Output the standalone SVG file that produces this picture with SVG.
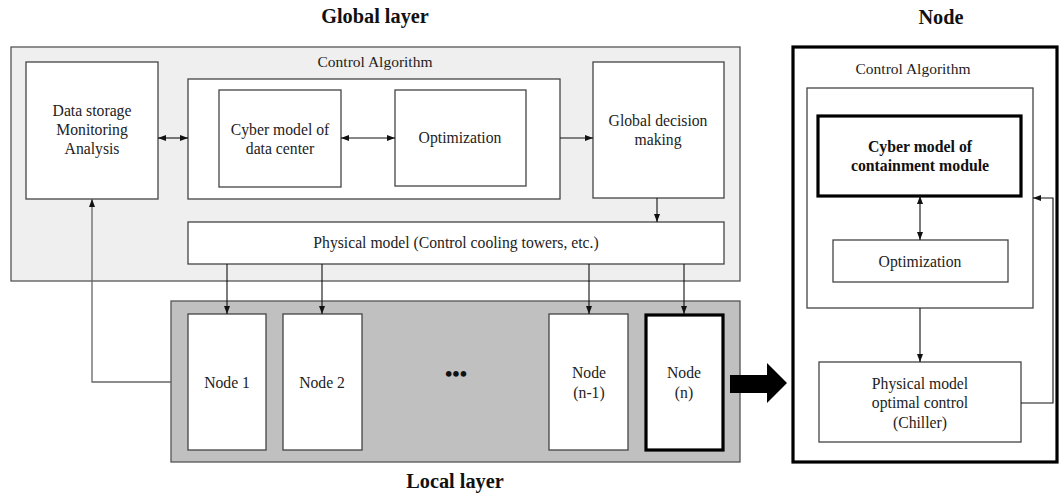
<svg xmlns="http://www.w3.org/2000/svg" width="1061" height="494" viewBox="0 0 1061 494" font-family="'Liberation Serif', Tinos, 'DejaVu Serif', serif">
  <style>
    text { font-family: "Liberation Serif", Tinos, "Times New Roman", "DejaVu Serif", serif; fill: #222; text-anchor: middle; }
    .title { font-size: 20.3px; font-weight: bold; fill: #111; }
    .lbl { font-size: 15.7px; }
    .cap { font-size: 15.5px; }
    .bold { font-size: 15.8px; font-weight: bold; fill: #111; }
    .box { fill: #fff; stroke: #444; stroke-width: 1.3; }
    .thick { fill: #fff; stroke: #000; stroke-width: 3.2; }
    .link { fill: none; stroke: #111; stroke-width: 1.1; }
  </style>
  <defs>
    <marker id="ah" viewBox="0 0 8 6" refX="8" refY="3" markerWidth="8" markerHeight="6" markerUnits="userSpaceOnUse" orient="auto-start-reverse">
      <path d="M0,0 L8,3 L0,6 z" fill="#111"/>
    </marker>
  </defs>

  <rect width="1061" height="494" fill="#fff"/>

  <!-- titles -->
  <text class="title" x="375" y="23">Global layer</text>
  <text class="title" x="941" y="24">Node</text>
  <text class="title" x="455" y="488">Local layer</text>

  <!-- global layer container -->
  <g id="global-layer">
    <rect x="11" y="47" width="729" height="234" fill="#efefef" stroke="#555" stroke-width="1.3"/>
    <text class="cap" x="375" y="67">Control Algorithm</text>
  </g>

  <g id="data-storage">
    <rect class="box" x="26" y="62" width="132" height="137"/>
    <text class="lbl" x="92" y="116">Data storage</text>
    <text class="lbl" x="92" y="135">Monitoring</text>
    <text class="lbl" x="92" y="154">Analysis</text>
  </g>

  <g id="cyber-group">
    <rect class="box" x="188" y="79" width="372" height="120"/>
  </g>

  <g id="cyber-model-dc">
    <rect class="box" x="219" y="90" width="122" height="97"/>
    <text class="lbl" x="280" y="135">Cyber model of</text>
    <text class="lbl" x="280" y="154">data center</text>
  </g>

  <g id="optimization-global">
    <rect class="box" x="395" y="90" width="131" height="96"/>
    <text class="lbl" x="460" y="143">Optimization</text>
  </g>

  <g id="global-decision">
    <rect class="box" x="593" y="62" width="131" height="136"/>
    <text class="lbl" x="658" y="126">Global decision</text>
    <text class="lbl" x="658" y="145">making</text>
  </g>

  <g id="physical-model-global">
    <rect class="box" x="188" y="222" width="536" height="42"/>
    <text class="lbl" x="456" y="248">Physical model (Control cooling towers, etc.)</text>
  </g>

  <!-- local layer container -->
  <g id="local-layer">
    <rect x="171" y="301" width="569" height="161" fill="#c0c0c0" stroke="#555" stroke-width="1.3"/>
    <text x="456" y="381" style="font-size:21px;font-weight:bold;fill:#111">•••</text>
  </g>

  <g id="node-1">
    <rect class="box" x="188" y="314" width="78" height="136"/>
    <text class="lbl" x="227" y="388">Node 1</text>
  </g>
  <g id="node-2">
    <rect class="box" x="283" y="314" width="79" height="136"/>
    <text class="lbl" x="322" y="388">Node 2</text>
  </g>
  <g id="node-n-1">
    <rect class="box" x="549" y="314" width="79" height="136"/>
    <text class="lbl" x="589" y="378">Node</text>
    <text class="lbl" x="589" y="398">(n-1)</text>
  </g>
  <g id="node-n">
    <rect class="thick" x="646" y="315" width="77" height="135"/>
    <text class="lbl" x="684" y="378">Node</text>
    <text class="lbl" x="684" y="398">(n)</text>
  </g>

  <!-- node detail panel -->
  <g id="node-panel">
    <rect x="793" y="47" width="264" height="415" fill="#fff" stroke="#000" stroke-width="3.2"/>
    <text class="cap" x="913" y="74">Control Algorithm</text>
  </g>

  <g id="node-algorithm">
    <rect class="box" x="807" y="88" width="226" height="220"/>
  </g>

  <g id="cyber-model-cm">
    <rect class="thick" x="818" y="116" width="203" height="80"/>
    <text class="bold" x="920" y="152">Cyber model of</text>
    <text class="bold" x="920" y="171">containment module</text>
  </g>

  <g id="optimization-node">
    <rect class="box" x="833" y="240" width="175" height="42"/>
    <text class="lbl" x="920" y="267">Optimization</text>
  </g>

  <g id="physical-model-node">
    <rect class="box" x="819" y="362" width="202" height="80"/>
    <text class="lbl" x="920" y="389">Physical model</text>
    <text class="lbl" x="920" y="408">optimal control</text>
    <text class="lbl" x="920" y="428">(Chiller)</text>
  </g>

  <!-- connectors -->
  <g id="connectors">
    <line class="link" x1="158" y1="138" x2="188" y2="138" marker-start="url(#ah)" marker-end="url(#ah)"/>
    <line class="link" x1="341" y1="138" x2="395" y2="138" marker-start="url(#ah)" marker-end="url(#ah)"/>
    <line class="link" x1="560" y1="138" x2="593" y2="138" marker-end="url(#ah)"/>
    <line class="link" x1="657" y1="198" x2="657" y2="222" marker-end="url(#ah)"/>
    <line class="link" x1="227" y1="264" x2="227" y2="314" marker-end="url(#ah)"/>
    <line class="link" x1="322" y1="264" x2="322" y2="314" marker-end="url(#ah)"/>
    <line class="link" x1="589" y1="264" x2="589" y2="314" marker-end="url(#ah)"/>
    <line class="link" x1="684" y1="264" x2="684" y2="314" marker-end="url(#ah)"/>
    <polyline fill="none" stroke="#666" stroke-width="1.3" points="171,382 92,382 92,199" marker-end="url(#ah)"/>
    <polygon points="730,375 767,375 767,363 787,383 767,403 767,393 730,393" fill="#000"/>
    <line class="link" x1="920" y1="196" x2="920" y2="240" marker-start="url(#ah)" marker-end="url(#ah)"/>
    <line class="link" x1="920" y1="308" x2="920" y2="362" marker-end="url(#ah)"/>
    <polyline class="link" stroke="#444" points="1021,403 1053,403 1053,198 1033,198" marker-end="url(#ah)"/>
  </g>
</svg>
